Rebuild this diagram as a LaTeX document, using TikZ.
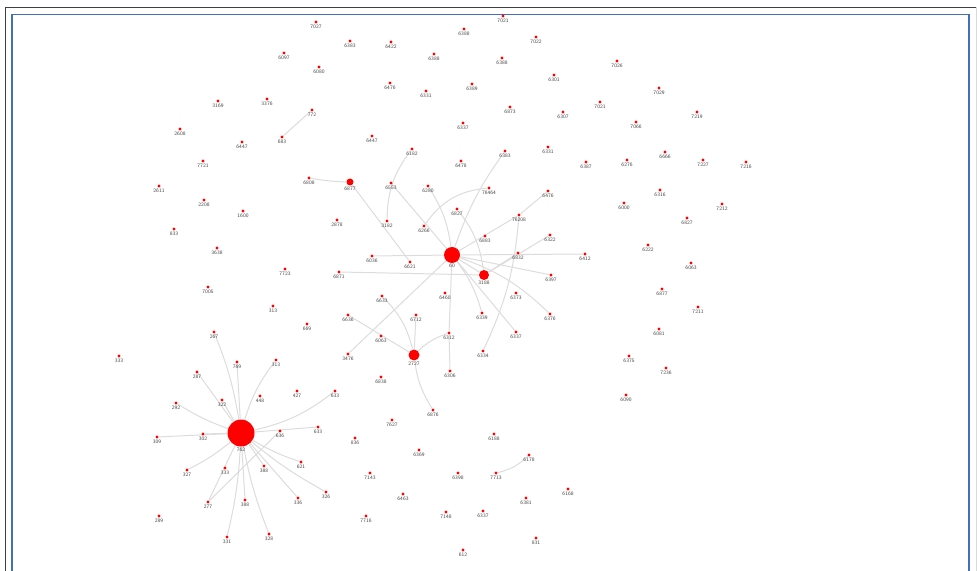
\documentclass[tikz,border=0pt]{standalone}
\usetikzlibrary{backgrounds}
\definecolor{frameblue}{RGB}{70,110,190}
\definecolor{edgegray}{RGB}{220,220,220}
\definecolor{labgray}{RGB}{70,70,70}
\begin{document}
\begin{tikzpicture}[x=0.5pt,y=-0.5pt,
  dot/.style={circle,fill=red,draw=none,inner sep=0pt,minimum size=1.6pt},
  hub/.style={circle,fill=red,draw=none,inner sep=0pt,minimum size=#1},
  lab/.style={font=\fontsize{2.6}{2.6}\selectfont\sffamily,text=labgray,inner sep=0.1pt,label distance=0pt},
  link/.style={draw=edgegray,line width=0.5pt},
  outerframe/.style={draw=black!75,line width=0.9pt},
  innerframe/.style={draw=frameblue,line width=0.6pt}]
\useasboundingbox (0,0) rectangle (977,571);
% frame
\draw[outerframe] (5.5,571) -- (5.5,7.5) -- (977,7.5);
\draw[draw=black!15,line width=0.5pt] (976,7.5) -- (976,571);
\draw[innerframe] (12,571) -- (12,14.5) -- (969,14.5) -- (969,571);
% hubs
\node[hub=13.5pt,label={[lab]below:762}] (E) at (241,433) {};
\node[hub=8pt,label={[lab]below:60}] (A) at (452,255) {};
\node[hub=5pt,label={[lab]below:3188}] (B) at (484,275) {};
\node[hub=5.5pt,label={[lab]below:2727}] (D) at (414,355) {};
\node[hub=3.5pt,label={[lab]below:6877}] (C) at (350,182) {};
% nodes
\node[dot,label={[lab]below:7027}] (t1) at (316,22) {};
\node[dot,label={[lab]below:6383}] (t2) at (350,41) {};
\node[dot,label={[lab]below:6422}] (t3) at (391,42) {};
\node[dot,label={[lab]below:6388}] (t4) at (464,29) {};
\node[dot,label={[lab]below:7021}] (t5) at (503,16) {};
\node[dot,label={[lab]below:7022}] (t6) at (536,37) {};
\node[dot,label={[lab]below:6097}] (t7) at (284,53) {};
\node[dot,label={[lab]below:6388}] (t8) at (434,54) {};
\node[dot,label={[lab]below:6388}] (t9) at (502,58) {};
\node[dot,label={[lab]below:6080}] (t10) at (319,67) {};
\node[dot,label={[lab]below:6301}] (t11) at (554,75) {};
\node[dot,label={[lab]below:7026}] (t12) at (617,61) {};
\node[dot,label={[lab]below:6476}] (t13) at (390,83) {};
\node[dot,label={[lab]below:6331}] (t14) at (426,91) {};
\node[dot,label={[lab]below:6389}] (t15) at (472,84) {};
\node[dot,label={[lab]below:7029}] (t16) at (659,88) {};
\node[dot,label={[lab]below:3169}] (t17) at (218,101) {};
\node[dot,label={[lab]below:3376}] (t18) at (267,99) {};
\node[dot,label={[lab]below:6873}] (t19) at (510,107) {};
\node[dot,label={[lab]below:6307}] (t20) at (563,112) {};
\node[dot,label={[lab]below:7021}] (t21) at (600,102) {};
\node[dot,label={[lab]below:7219}] (t22) at (697,112) {};
\node[dot,label={[lab]below:772}] (t23) at (312,110) {};
\node[dot,label={[lab]below:683}] (t24) at (282,137) {};
\node[dot,label={[lab]below:6337}] (t25) at (463,123) {};
\node[dot,label={[lab]below:7066}] (t26) at (636,122) {};
\node[dot,label={[lab]below:2608}] (t27) at (180,129) {};
\node[dot,label={[lab]below:6447}] (t28) at (242,142) {};
\node[dot,label={[lab]below:6447}] (t29) at (372,136) {};
\node[dot,label={[lab]below:6182}] (t30) at (412,149) {};
\node[dot,label={[lab]below:6478}] (t31) at (461,161) {};
\node[dot,label={[lab]below:6383}] (t32) at (505,151) {};
\node[dot,label={[lab]below:6331}] (t33) at (548,147) {};
\node[dot,label={[lab]below:6387}] (t34) at (586,162) {};
\node[dot,label={[lab]below:6276}] (t35) at (627,160) {};
\node[dot,label={[lab]below:6666}] (t36) at (665,152) {};
\node[dot,label={[lab]below:7227}] (t37) at (703,160) {};
\node[dot,label={[lab]below:7216}] (t38) at (746,162) {};
\node[dot,label={[lab]below:7721}] (t39) at (203,161) {};
\node[dot,label={[lab]below:2611}] (t40) at (159,186) {};
\node[dot,label={[lab]below:6808}] (t41) at (309,178) {};
\node[dot,label={[lab]below:6553}] (t42) at (391,183) {};
\node[dot,label={[lab]below:6280}] (t43) at (428,186) {};
\node[dot,label={[lab]below:76464}] (t44) at (489,188) {};
\node[dot,label={[lab]below:6476}] (t45) at (548,191) {};
\node[dot,label={[lab]below:6316}] (t46) at (660,190) {};
\node[dot,label={[lab]below:2208}] (t47) at (204,200) {};
\node[dot,label={[lab]below:1600}] (t48) at (243,211) {};
\node[dot,label={[lab]below:6000}] (t49) at (624,203) {};
\node[dot,label={[lab]below:7212}] (t50) at (722,204) {};
\node[dot,label={[lab]below:6827}] (t51) at (457,209) {};
\node[dot,label={[lab]below:76208}] (t52) at (519,215) {};
\node[dot,label={[lab]below:2878}] (t53) at (337,220) {};
\node[dot,label={[lab]below:3182}] (t54) at (387,221) {};
\node[dot,label={[lab]below:6266}] (t55) at (424,226) {};
\node[dot,label={[lab]below:6827}] (t56) at (687,218) {};
\node[dot,label={[lab]below:833}] (t57) at (174,229) {};
\node[dot,label={[lab]below:6883}] (t58) at (485,236) {};
\node[dot,label={[lab]below:6322}] (t59) at (550,235) {};
\node[dot,label={[lab]below:3638}] (t60) at (217,248) {};
\node[dot,label={[lab]below:6222}] (t61) at (648,245) {};
\node[dot,label={[lab]below:6036}] (t62) at (372,256) {};
\node[dot,label={[lab]below:6621}] (t63) at (410,262) {};
\node[dot,label={[lab]below:6832}] (t64) at (518,253) {};
\node[dot,label={[lab]below:6412}] (t65) at (585,254) {};
\node[dot,label={[lab]below:6063}] (t66) at (691,263) {};
\node[dot,label={[lab]below:7723}] (t67) at (285,269) {};
\node[dot,label={[lab]below:6871}] (t68) at (339,272) {};
\node[dot,label={[lab]below:6397}] (t69) at (551,275) {};
\node[dot,label={[lab]below:7005}] (t70) at (208,287) {};
\node[dot,label={[lab]below:6877}] (t71) at (662,289) {};
\node[dot,label={[lab]below:6633}] (t72) at (382,296) {};
\node[dot,label={[lab]below:6460}] (t73) at (445,293) {};
\node[dot,label={[lab]below:6373}] (t74) at (516,293) {};
\node[dot,label={[lab]below:313}] (t75) at (273,306) {};
\node[dot,label={[lab]below:7211}] (t76) at (698,307) {};
\node[dot,label={[lab]below:6636}] (t77) at (348,315) {};
\node[dot,label={[lab]below:6712}] (t78) at (416,315) {};
\node[dot,label={[lab]below:6339}] (t79) at (482,313) {};
\node[dot,label={[lab]below:6376}] (t80) at (550,314) {};
\node[dot,label={[lab]below:669}] (t81) at (307,324) {};
\node[dot,label={[lab]below:6081}] (t82) at (659,329) {};
\node[dot,label={[lab]below:267}] (t83) at (214,332) {};
\node[dot,label={[lab]below:6063}] (t84) at (381,336) {};
\node[dot,label={[lab]below:6312}] (t85) at (449,333) {};
\node[dot,label={[lab]below:6337}] (t86) at (516,332) {};
\node[dot,label={[lab]below:3476}] (t87) at (348,354) {};
\node[dot,label={[lab]below:6334}] (t88) at (483,351) {};
\node[dot,label={[lab]below:6375}] (t89) at (629,356) {};
\node[dot,label={[lab]below:333}] (t90) at (119,356) {};
\node[dot,label={[lab]below:769}] (t91) at (237,362) {};
\node[dot,label={[lab]below:313}] (t92) at (276,360) {};
\node[dot,label={[lab]below:7236}] (t93) at (666,368) {};
\node[dot,label={[lab]below:6306}] (t94) at (450,371) {};
\node[dot,label={[lab]below:287}] (t95) at (197,372) {};
\node[dot,label={[lab]below:6838}] (t96) at (381,377) {};
\node[dot,label={[lab]below:633}] (t97) at (335,391) {};
\node[dot,label={[lab]below:427}] (t98) at (297,391) {};
\node[dot,label={[lab]below:448}] (t99) at (260,396) {};
\node[dot,label={[lab]below:322}] (t100) at (222,400) {};
\node[dot,label={[lab]below:292}] (t101) at (176,403) {};
\node[dot,label={[lab]below:6090}] (t102) at (626,395) {};
\node[dot,label={[lab]below:6876}] (t103) at (433,410) {};
\node[dot,label={[lab]below:7627}] (t104) at (392,420) {};
\node[dot,label={[lab]below:633}] (t105) at (318,427) {};
\node[dot,label={[lab]below:636}] (t106) at (280,431) {};
\node[dot,label={[lab]below:302}] (t107) at (203,434) {};
\node[dot,label={[lab]below:309}] (t108) at (157,437) {};
\node[dot,label={[lab]below:836}] (t109) at (355,438) {};
\node[dot,label={[lab]below:6188}] (t110) at (494,434) {};
\node[dot,label={[lab]below:6369}] (t111) at (419,450) {};
\node[dot,label={[lab]below:6178}] (t112) at (529,455) {};
\node[dot,label={[lab]below:621}] (t113) at (301,462) {};
\node[dot,label={[lab]below:388}] (t114) at (264,466) {};
\node[dot,label={[lab]below:333}] (t115) at (225,468) {};
\node[dot,label={[lab]below:327}] (t116) at (187,470) {};
\node[dot,label={[lab]below:7143}] (t117) at (370,473) {};
\node[dot,label={[lab]below:6398}] (t118) at (458,473) {};
\node[dot,label={[lab]below:7713}] (t119) at (496,473) {};
\node[dot,label={[lab]below:6168}] (t120) at (568,489) {};
\node[dot,label={[lab]below:326}] (t121) at (326,492) {};
\node[dot,label={[lab]below:336}] (t122) at (298,498) {};
\node[dot,label={[lab]below:388}] (t123) at (245,500) {};
\node[dot,label={[lab]below:277}] (t124) at (208,502) {};
\node[dot,label={[lab]below:6463}] (t125) at (403,494) {};
\node[dot,label={[lab]below:6381}] (t126) at (526,498) {};
\node[dot,label={[lab]below:289}] (t127) at (159,516) {};
\node[dot,label={[lab]below:7716}] (t128) at (366,516) {};
\node[dot,label={[lab]below:7148}] (t129) at (446,512) {};
\node[dot,label={[lab]below:6337}] (t130) at (483,511) {};
\node[dot,label={[lab]below:331}] (t131) at (227,537) {};
\node[dot,label={[lab]below:328}] (t132) at (269,534) {};
\node[dot,label={[lab]below:831}] (t133) at (536,538) {};
\node[dot,label={[lab]below:612}] (t134) at (463,550) {};
% edges
\begin{pgfonlayer}{background}
\draw[link] (t23) -- (t24);
\draw[link] (t41) to[bend right=4] (C);
\draw[link] (C) -- (t63);
\draw[link] (t30) to[bend right=18] (t54);
\draw[link] (t42) -- (A);
\draw[link] (t43) to[bend left=12] (A);
\draw[link] (t32) to[bend right=8] (A);
\draw[link] (t44) to[bend right=25] (t55);
\draw[link] (t51) to[bend left=15] (B);
\draw[link] (t45) -- (t52);
\draw[link] (t52) -- (A);
\draw[link] (t59) -- (B);
\draw[link] (t62) -- (A);
\draw[link] (A) -- (t65);
\draw[link] (t68) -- (B);
\draw[link] (t64) -- (B);
\draw[link] (A) -- (t69);
\draw[link] (A) -- (B);
\draw[link] (t87) -- (A);
\draw[link] (A) -- (t85);
\draw[link] (t85) -- (t94);
\draw[link] (A) to[bend left=10] (t79);
\draw[link] (A) -- (t86);
\draw[link] (A) to[bend left=12] (t80);
\draw[link] (t52) to[bend left=10] (t88);
\draw[link] (D) to[bend right=15] (t72);
\draw[link] (D) -- (t78);
\draw[link] (D) to[bend left=12] (t85);
\draw[link] (t77) -- (D);
\draw[link] (D) to[bend right=12] (t103);
\draw[link] (t119) to[bend right=15] (t112);
\draw[link] (E) to[bend right=6] (t83);
\draw[link] (E) -- (t91);
\draw[link] (E) to[bend left=10] (t92);
\draw[link] (E) -- (t95);
\draw[link] (E) to[bend left=6] (t101);
\draw[link] (E) -- (t100);
\draw[link] (E) to[bend right=12] (t97);
\draw[link] (E) -- (t108);
\draw[link] (E) -- (t107);
\draw[link] (E) -- (t105);
\draw[link] (E) to[bend left=6] (t116);
\draw[link] (E) -- (t114);
\draw[link] (E) to[bend right=6] (t113);
\draw[link] (E) -- (t122);
\draw[link] (E) to[bend right=5] (t121);
\draw[link] (E) -- (t124);
\draw[link] (E) -- (t123);
\draw[link] (E) to[bend left=5] (t131);
\draw[link] (E) to[bend right=5] (t132);
\draw[link] (t106) -- (t124);
\end{pgfonlayer}
\end{tikzpicture}
\end{document}
